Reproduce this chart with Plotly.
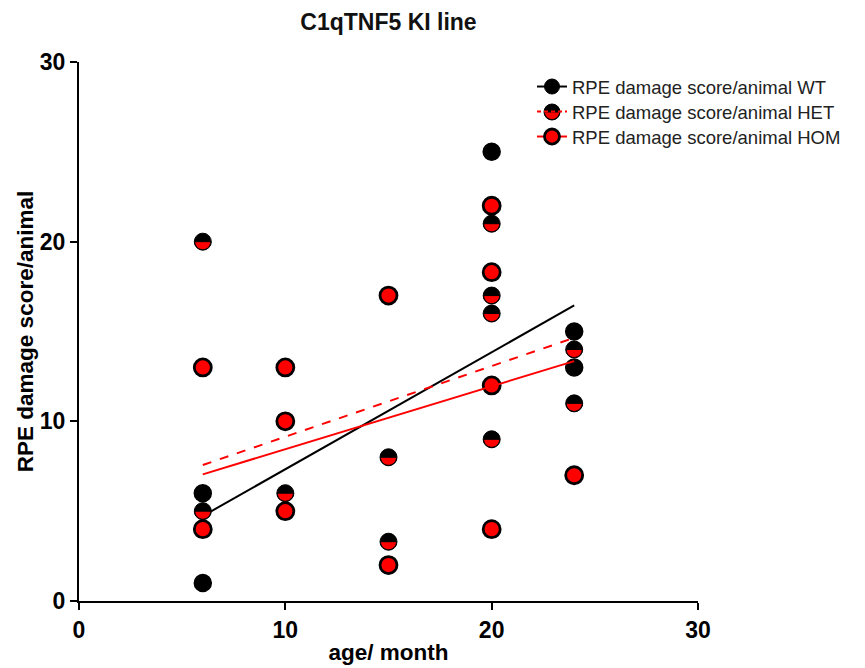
import plotly.graph_objects as go

# ---- data ----
wt_x = [6, 6, 20, 24, 24]
wt_y = [6, 1, 25, 15, 13]

het_x = [6, 6, 10, 15, 15, 20, 20, 20, 20, 24, 24]
het_y = [20, 5, 6, 8, 3.3, 21, 17, 16, 9, 14, 11]

hom_x = [6, 6, 10, 10, 10, 15, 15, 20, 20, 20, 20, 24]
hom_y = [13, 4, 13, 10, 5, 17, 2, 22, 18.3, 12, 4, 7]

fit_x = [6, 24]
wt_fit_y = [4.73, 16.45]
het_fit_y = [7.57, 14.65]
hom_fit_y = [7.05, 13.35]

names = ["RPE damage score/animal WT",
         "RPE damage score/animal HET",
         "RPE damage score/animal HOM"]

x_ticks = [0, 10, 20, 30]
y_ticks = [0, 10, 20, 30]

RED = "#FF0000"
BLK = "#000000"
FONT = "Liberation Sans, Arial, sans-serif"
MS = 17

# plot-area geometry (pixels)
L, R, T, B = 79, 167, 62, 67
W, H = 865, 668
PW, PH = W - L - R, H - T - B


def px_to_paper(px, py):
    return (px - L) / PW, (H - B - py) / PH


fig = go.Figure()

# points
fig.add_trace(go.Scatter(x=hom_x, y=hom_y, mode="markers", showlegend=False,
                         marker=dict(symbol="circle", size=MS, color=RED,
                                     line=dict(color=BLK, width=2.8)),
                         cliponaxis=False))
fig.add_trace(go.Scatter(x=het_x, y=het_y, mode="markers", showlegend=False,
                         marker=dict(symbol="circle", size=MS, color=BLK,
                                     line=dict(color=BLK, width=1)),
                         cliponaxis=False))
fig.add_trace(go.Scatter(x=wt_x, y=wt_y, mode="markers", showlegend=False,
                         marker=dict(symbol="circle", size=MS, color=BLK,
                                     line=dict(color=BLK, width=1.5)),
                         cliponaxis=False))

# fit lines
fig.add_trace(go.Scatter(x=fit_x, y=wt_fit_y, mode="lines", showlegend=False,
                         line=dict(color=BLK, width=2)))
fig.add_trace(go.Scatter(x=fit_x, y=het_fit_y, mode="lines", showlegend=False,
                         line=dict(color=RED, width=2, dash="dash")))
fig.add_trace(go.Scatter(x=fit_x, y=hom_fit_y, mode="lines", showlegend=False,
                         line=dict(color=RED, width=2)))

# legend-only entries, one legend each so rows can be placed precisely
fig.add_trace(go.Scatter(x=[None], y=[None], mode="lines+markers", name=names[0],
                         legend="legend",
                         marker=dict(size=15, color=BLK, line=dict(color=BLK, width=1)),
                         line=dict(color=BLK, width=2)))
fig.add_trace(go.Scatter(x=[None], y=[None], mode="lines+markers", name=names[1],
                         legend="legend2",
                         marker=dict(size=15, color="rgba(0,0,0,0)",
                                     line=dict(color="rgba(0,0,0,0)", width=0)),
                         line=dict(color=RED, width=2, dash="4px,3px")))
fig.add_trace(go.Scatter(x=[None], y=[None], mode="lines+markers", name=names[2],
                         legend="legend3",
                         marker=dict(size=15, color=RED, line=dict(color=BLK, width=2.8)),
                         line=dict(color=RED, width=2)))


def lower_half(r):
    k = 0.5523 * r
    return (f"M {-r},0 C {-r},{-k} {-k},{-r} 0,{-r} "
            f"C {k},{-r} {r},{-k} {r},0 Z")


shapes = []
# red lower half for HET markers
for xv, yv in zip(het_x, het_y):
    shapes.append(dict(type="path", xref="x", yref="y",
                       xsizemode="pixel", ysizemode="pixel",
                       xanchor=xv, yanchor=yv, path=lower_half(8),
                       fillcolor=RED, line=dict(color=BLK, width=1),
                       layer="above"))

# legend icon for HET (drawn under the legend line)
leg_x0 = 532
rows = [87, 112, 137]
hx, hy = px_to_paper(leg_x0 + 20, rows[1])
shapes.append(dict(type="circle", xref="paper", yref="paper",
                   xsizemode="pixel", ysizemode="pixel",
                   xanchor=hx, yanchor=hy, x0=-8, x1=8, y0=-8, y1=8,
                   fillcolor=BLK, line=dict(color=BLK, width=1), layer="above"))
shapes.append(dict(type="path", xref="paper", yref="paper",
                   xsizemode="pixel", ysizemode="pixel",
                   xanchor=hx, yanchor=hy, path=lower_half(7.5),
                   fillcolor=RED, line=dict(color=BLK, width=1), layer="above"))

legend_common = dict(xanchor="left", yanchor="top",
                     font=dict(size=18.5, family=FONT, color="#222"),
                     bgcolor="rgba(0,0,0,0)")
lx = (leg_x0 - L) / PW


def legend_at(row_center):
    return dict(x=lx, y=(H - B - (row_center - 19)) / PH, **legend_common)


fig.update_layout(
    width=W, height=H,
    margin=dict(l=L, r=R, t=T, b=B, autoexpand=False),
    paper_bgcolor="white", plot_bgcolor="white",
    font=dict(family=FONT, color=BLK),
    title=dict(text="C1qTNF5 KI line", x=0.5, xref="paper",
               y=1 - 22 / H, yref="container", yanchor="middle",
               font=dict(size=23, weight="bold", family=FONT, color="#111")),
    xaxis=dict(range=[0, 30], tickvals=x_ticks, showgrid=False, zeroline=False,
               showline=True, linecolor=BLK, linewidth=2, automargin=False,
               ticks="outside", ticklen=7, tickwidth=2, tickcolor=BLK,
               tickfont=dict(size=23, weight="bold", family=FONT),
               title=dict(text="age/ month", standoff=3,
                          font=dict(size=22.5, weight="bold", family=FONT))),
    yaxis=dict(range=[0, 30], tickvals=y_ticks, showgrid=False, zeroline=False,
               showline=True, linecolor=BLK, linewidth=2, automargin=False,
               ticks="outside", ticklen=7, tickwidth=2, tickcolor=BLK,
               tickfont=dict(size=23, weight="bold", family=FONT),
               title=dict(text="RPE damage score/animal", standoff=0,
                          font=dict(size=22.5, weight="bold", family=FONT))),
    legend=legend_at(rows[0]),
    legend2=legend_at(rows[1]),
    legend3=legend_at(rows[2]),
    shapes=shapes,
)

fig.write_html("out.html",
               config={"displayModeBar": False},
               post_script="document.body.style.margin='0px';")
